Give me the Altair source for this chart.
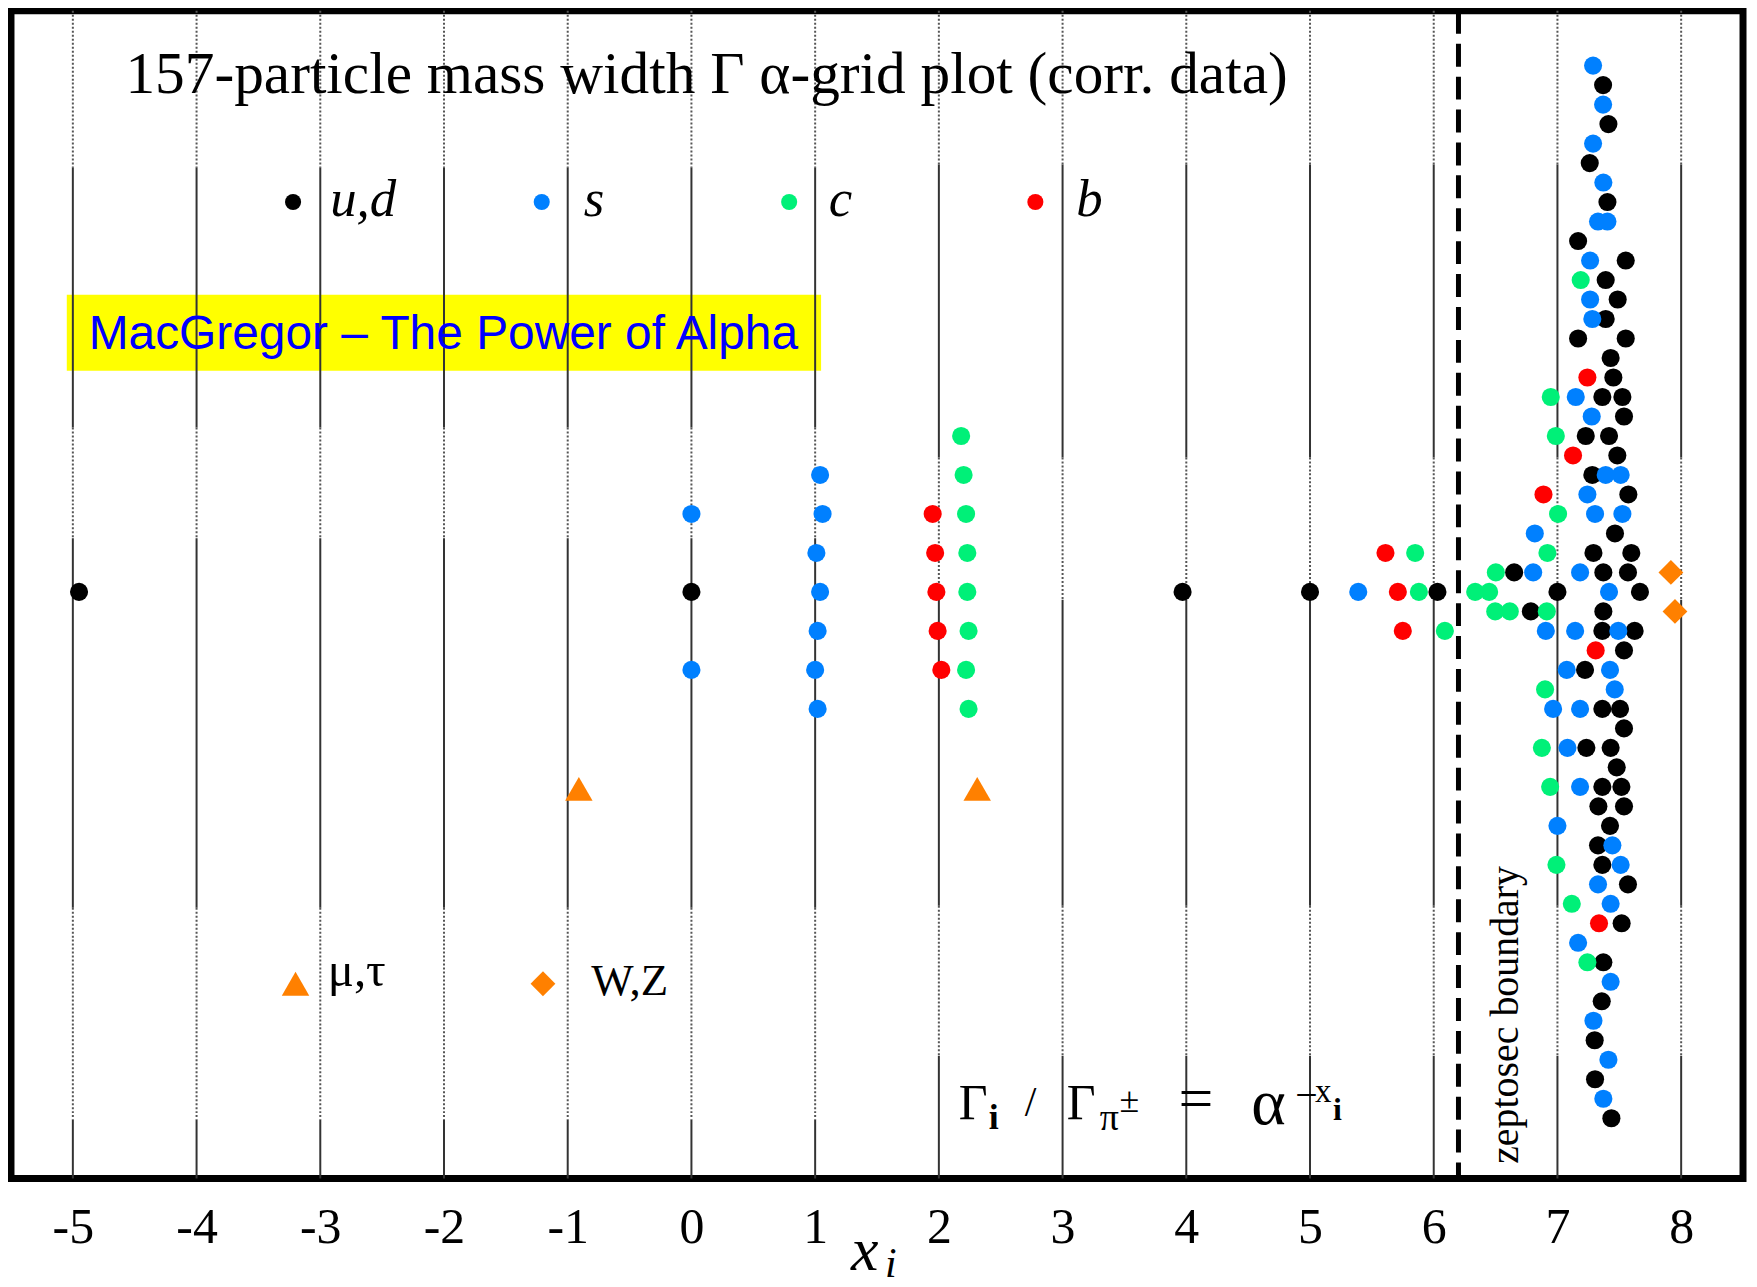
import altair as alt
import pandas as pd

# ---------------- data: (x_i value, row index counted from the top) ----------------
ud = [(-4.95, 27), (0.0, 27), (3.97, 27), (5.0, 27), (6.03, 27),
      (7.369, 1), (7.412, 3), (7.261, 5), (7.404, 7), (7.167, 9), (7.552, 10), (7.390, 11),
      (7.487, 12), (7.390, 13), (7.167, 14), (7.552, 14), (7.430, 15), (7.452, 16),
      (7.363, 17), (7.525, 17), (7.538, 18), (7.229, 19), (7.417, 19), (7.484, 20),
      (7.282, 21), (7.573, 22), (7.465, 24), (7.291, 25), (7.597, 25), (6.650, 26),
      (7.371, 26), (7.570, 26), (7.0, 27), (7.667, 27), (6.785, 28), (7.371, 28),
      (7.363, 29), (7.624, 29), (7.538, 30), (7.223, 31), (7.363, 33), (7.506, 33),
      (7.538, 34), (7.234, 35), (7.430, 35), (7.479, 36), (7.363, 37), (7.517, 37),
      (7.331, 38), (7.538, 38), (7.425, 39), (7.328, 40), (7.363, 41), (7.570, 42),
      (7.519, 44), (7.371, 46), (7.358, 48), (7.301, 50), (7.304, 52), (7.436, 54)]
s = [(0.0, 23), (0.0, 31), (1.04, 21), (1.06, 23), (1.01, 25), (1.04, 27), (1.02, 29),
     (1.0, 31), (1.02, 33), (5.39, 27),
     (7.288, 0), (7.369, 2), (7.288, 4), (7.371, 6), (7.328, 8), (7.404, 8), (7.264, 10),
     (7.264, 12), (7.282, 13), (7.148, 17), (7.277, 18), (7.390, 21), (7.511, 21),
     (7.242, 22), (7.304, 23), (7.525, 23), (6.817, 24), (6.804, 26), (7.183, 26),
     (7.417, 27), (6.906, 29), (7.143, 29), (7.492, 29), (7.075, 31), (7.425, 31),
     (7.463, 32), (6.965, 33), (7.183, 33), (7.081, 35), (7.183, 37), (7.0, 39),
     (7.444, 40), (7.511, 41), (7.328, 42), (7.430, 43), (7.167, 45), (7.430, 47),
     (7.291, 49), (7.412, 51), (7.371, 53)]
c = [(2.18, 19), (2.20, 21), (2.22, 23), (2.23, 25), (2.23, 27), (2.24, 29), (2.22, 31),
     (2.24, 33), (5.85, 25), (5.88, 27), (6.09, 29),
     (7.188, 11), (6.946, 17), (6.987, 19), (7.005, 23), (6.919, 25), (6.502, 26),
     (6.335, 27), (6.448, 27), (6.497, 28), (6.615, 28), (6.914, 28), (6.900, 32),
     (6.874, 35), (6.941, 37), (6.992, 41), (7.116, 43), (7.242, 46)]
b = [(1.95, 23), (1.97, 25), (1.98, 27), (1.99, 29), (2.02, 31), (5.61, 25), (5.71, 27),
     (5.75, 29), (7.242, 16), (7.126, 20), (6.887, 22), (7.309, 30), (7.336, 44)]
leptons = [(-0.91, 37.1), (2.31, 37.1)]
wz = [(7.917, 26), (7.950, 28)]

quark_names = ["u,d", "s", "c", "b"]
quark_colors = ["#000000", "#0080FF", "#00F078", "#FF0000"]
legend_dot_x = [-3.22, -1.21, 0.79, 2.78]
legend_label_x = [-2.92, -0.87, 1.11, 3.11]
legend_row = 7.0
legend_label_row = 7.73

tick_values = list(range(-5, 9))
grid_A_lines = list(range(-5, 2))
grid_B_lines = list(range(2, 9))
grid_A_breaks = [-2.81, 5.22, 18.57, 24.25, 43.2, 54.07, 57.09]
grid_B_breaks = [-2.81, 5.07, 20.1, 27.4, 43.1, 50.8, 57.09]
boundary_x = 6.2

X_DOMAIN = [-5.5, 8.5]
Y_DOMAIN = [-2.81, 57.09]

SERIF = "Liberation Serif"
SANS = "Liberation Sans"

xs = alt.Scale(domain=X_DOMAIN, nice=False, zero=False)
ys = alt.Scale(domain=Y_DOMAIN, nice=False, zero=False, reverse=True)
xaxis = alt.Axis(values=tick_values, grid=False, ticks=False, tickSize=0, domain=False,
                 labelFont=SERIF, labelFontSize=50, labelColor="black", labelPadding=24,
                 labelFlush=False, labelOverlap=False, title=None,
                 labelExpr="datum.value < 0 ? '-' + abs(datum.value) : '' + datum.value")


def X(f="x"):
    return alt.X(f, type="quantitative", scale=xs, axis=xaxis)


def Y(f="row"):
    return alt.Y(f, type="quantitative", scale=ys, axis=None)


# ---------------- tables built from the arrays ----------------
pts = []
for name, arr in zip(quark_names, [ud, s, c, b]):
    for xv, rv in arr:
        pts.append({"x": xv, "row": rv, "q": name})
pts_df = pd.DataFrame(pts)

grid = []
for lines, br in ((grid_A_lines, grid_A_breaks), (grid_B_lines, grid_B_breaks)):
    for gx in lines:
        for k in range(len(br) - 1):
            grid.append({"x": gx, "y0": br[k], "y1": br[k + 1], "dotted": k % 2 == 0})
grid_df = pd.DataFrame(grid)

color = alt.Color("q:N", scale=alt.Scale(domain=quark_names, range=quark_colors), legend=None)

grid_solid = alt.Chart(grid_df).transform_filter("!datum.dotted").mark_rule(
    color="#333333", strokeWidth=2).encode(x=X(), y=Y("y0"), y2=alt.Y2("y1"))
grid_dot = alt.Chart(grid_df).transform_filter("datum.dotted").mark_rule(
    color="#555555", strokeWidth=2, strokeDash=[2, 2]).encode(x=X(), y=Y("y0"), y2=alt.Y2("y1"))

boundary = alt.Chart(pd.DataFrame({"x": [boundary_x], "y0": [Y_DOMAIN[0]], "y1": [Y_DOMAIN[1]]})).mark_rule(
    color="black", strokeWidth=5, strokeDash=[23, 10]).encode(x=X(), y=Y("y0"), y2=alt.Y2("y1"))

box = alt.Chart(pd.DataFrame({"x": [-5.049], "x2": [1.048], "y0": [11.75], "y1": [15.65]})).mark_rect(
    color="#FFFF00").encode(x=X(), x2=alt.X2("x2"), y=Y("y0"), y2=alt.Y2("y1"))

points = alt.Chart(pts_df).mark_point(shape="circle", filled=True, size=330, opacity=1).encode(
    x=X(), y=Y(), color=color)

lep_df = pd.DataFrame(leptons + [(-3.2, 47.1)], columns=["x", "row"])
tri = alt.Chart(lep_df).mark_point(shape="triangle-up", filled=True, size=760, color="#FF8000",
                                   opacity=1).encode(x=X(), y=Y())
wz_df = pd.DataFrame(wz + [(-1.2, 47.1)], columns=["x", "row"])
dia = alt.Chart(wz_df).mark_point(shape="diamond", filled=True, size=620, color="#FF8000",
                                  opacity=1).encode(x=X(), y=Y())

leg_dots = alt.Chart(pd.DataFrame({"x": legend_dot_x, "row": [legend_row] * 4, "q": quark_names})).mark_point(
    shape="circle", filled=True, size=260, opacity=1).encode(x=X(), y=Y(), color=color)
leg_text = alt.Chart(pd.DataFrame({"x": legend_label_x, "row": [legend_label_row] * 4, "t": quark_names})).mark_text(
    font=SERIF, fontStyle="italic", fontSize=53, align="left", baseline="alphabetic", color="black").encode(
    x=X(), y=Y(), text="t:N")

serif_texts = pd.DataFrame([
    ("157-particle mass width Γ α-grid plot (corr. data)", -4.575, 1.39, 59.5),
    ("μ,τ", -2.94, 47.2, 49),
    ("W,Z", -0.81, 47.7, 45),
    ("Γ", 2.161, 54.02, 50),
    ("/", 2.695, 53.87, 42),
    ("Γ", 3.034, 54.02, 50),
    ("π", 3.30, 54.62, 38),
    ("±", 3.46, 53.66, 36),
    ("=", 3.937, 54.02, 62),
    ("α", 4.525, 54.27, 66),
    ("−", 4.88, 53.5, 40),
    ("x", 5.04, 53.15, 33),
], columns=["t", "x", "row", "fs"])
serif = alt.Chart(serif_texts).mark_text(font=SERIF, align="left", baseline="alphabetic", color="black").encode(
    x=X(), y=Y(), text="t:N", size=alt.Size("fs:Q", scale=None))

sub_texts = pd.DataFrame([("i", 2.403, 54.55, 36), ("i", 5.185, 54.1, 32)], columns=["t", "x", "row", "fs"])
subs = alt.Chart(sub_texts).mark_text(font=SERIF, fontWeight="bold", align="left", baseline="alphabetic",
                                      color="black").encode(
    x=X(), y=Y(), text="t:N", size=alt.Size("fs:Q", scale=None))

italic_texts = pd.DataFrame([("x", 1.29, 61.8, 62), ("i", 1.565, 62.15, 42)], columns=["t", "x", "row", "fs"])
italic = alt.Chart(italic_texts).mark_text(font=SERIF, fontStyle="italic", align="left", baseline="alphabetic",
                                           color="black").encode(
    x=X(), y=Y(), text="t:N", size=alt.Size("fs:Q", scale=None))

macg = alt.Chart(pd.DataFrame({"t": ["MacGregor – The Power of Alpha"], "x": [-2.005], "row": [14.55]})).mark_text(
    font=SANS, fontSize=48, align="center", baseline="alphabetic", color="#0000FF").encode(
    x=X(), y=Y(), text="t:N")

zepto = alt.Chart(pd.DataFrame({"t": ["zeptosec boundary"], "x": [6.68], "row": [48.7]})).mark_text(
    font=SERIF, fontSize=40, angle=270, align="center", baseline="alphabetic", color="black").encode(
    x=X(), y=Y(), text="t:N")

chart = alt.layer(
    box, grid_solid, grid_dot, boundary, points, tri, dia, leg_dots, leg_text, serif, subs, italic, macg, zepto
).properties(
    width=1737, height=1171,
    autosize=alt.AutoSizeParams(type="none"),
    padding={"left": 3, "top": 1, "right": 6, "bottom": 107}
).configure_view(stroke="black", strokeWidth=7)

chart.save("out.html", embed_options={"renderer": "svg", "actions": False})
